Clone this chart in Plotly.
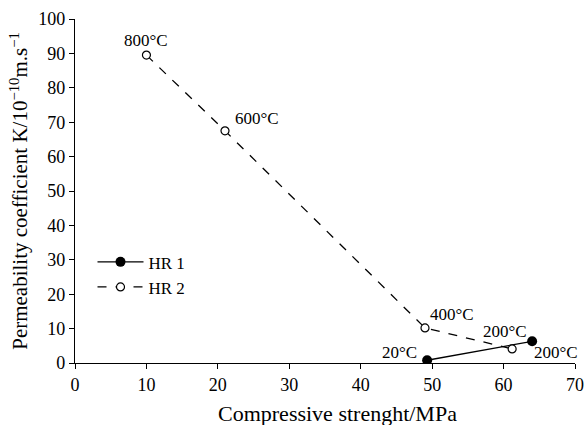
import plotly.graph_objects as go

hr1_x = [49.3, 64.0]
hr1_y = [0.8, 6.3]
hr1_labels = ["20°C", "200°C"]
hr2_x = [10.0, 21.0, 49.0, 61.2]
hr2_y = [89.5, 67.5, 10.2, 4.1]
hr2_labels = ["800°C", "600°C", "400°C", "200°C"]

FONT = "Liberation Serif"

fig = go.Figure()
fig.add_trace(go.Scatter(
    x=hr1_x, y=hr1_y, mode="lines+markers", name="HR 1",
    line=dict(color="black", width=1.3),
    marker=dict(symbol="circle", size=10, color="black"),
))
fig.add_trace(go.Scatter(
    x=hr2_x, y=hr2_y, mode="lines+markers", name="HR 2",
    line=dict(color="black", width=1.3, dash="dash"),
    marker=dict(symbol="circle", size=8, color="white", line=dict(color="black", width=1.2)),
))

# annotation offsets (pixels, +y downward)
offs1 = [(-28, -8), (24, 11)]
offs2 = [(0, -15), (32, -12), (27, -13), (-7, -17)]
for x, y, t, (ax, ay) in zip(hr1_x, hr1_y, hr1_labels, offs1):
    fig.add_annotation(x=x, y=y, text=t, showarrow=False, xshift=ax, yshift=-ay,
                       font=dict(family=FONT, size=17, color="black"))
for x, y, t, (ax, ay) in zip(hr2_x, hr2_y, hr2_labels, offs2):
    fig.add_annotation(x=x, y=y, text=t, showarrow=False, xshift=ax, yshift=-ay,
                       font=dict(family=FONT, size=17, color="black"))

# x-axis title (placed as annotation to match reference position)
fig.add_annotation(x=0.524, y=0, xref="paper", yref="paper", yanchor="middle",
                   xanchor="center", yshift=-50,
                   text="Compressive strenght/MPa", showarrow=False,
                   font=dict(family=FONT, size=22, color="black"))

fig.update_layout(
    width=587, height=425,
    margin=dict(l=75, r=12, t=19, b=62),
    paper_bgcolor="white", plot_bgcolor="white",
    font=dict(family=FONT, size=18, color="black"),
    showlegend=True,
    legend=dict(x=0.035, y=0.345, xanchor="left", yanchor="top",
                bgcolor="rgba(0,0,0,0)", font=dict(family=FONT, size=17, color="black"),
                tracegroupgap=0, itemwidth=46),
    xaxis=dict(range=[0, 70], dtick=10, showline=True, linecolor="black", linewidth=1.2,
               ticks="outside", ticklen=5, tickcolor="black", showgrid=False, zeroline=False,
               automargin=False,
               tickfont=dict(family=FONT, size=18, color="black")),
    yaxis=dict(range=[0, 100], dtick=10, showline=True, linecolor="black", linewidth=1.2,
               ticks="outside", ticklen=5, tickcolor="black", showgrid=False, zeroline=False,
               automargin=False,
               title=dict(text="Permeability coefficient K/10<sup>−10</sup>m.s<sup>−1</sup>",
                          font=dict(family=FONT, size=21, color="black"), standoff=4),
               tickfont=dict(family=FONT, size=18, color="black")),
)

fig.write_html("out.html", config={"displayModeBar": False},
               post_script="document.body.style.margin='0';document.body.style.overflow='hidden';")
